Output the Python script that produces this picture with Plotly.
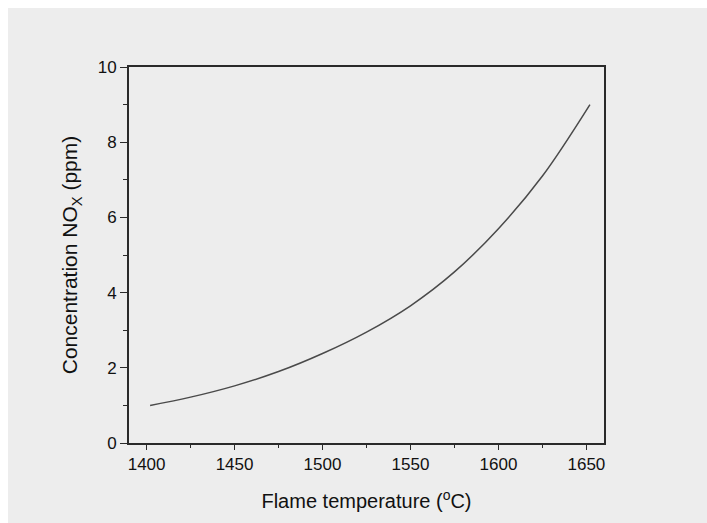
import plotly.graph_objects as go

# Data
temperature_c = [1402, 1425, 1450, 1475, 1500, 1525, 1550, 1575, 1600, 1625, 1652]
nox_ppm = [1.00, 1.22, 1.52, 1.90, 2.38, 2.95, 3.65, 4.55, 5.70, 7.10, 9.00]

x_title = "Flame temperature (<sup>o</sup>C)"
y_title = "Concentration NO<sub>X</sub> (ppm)"
x_range = [1390, 1660]
y_range = [0, 10]

BG = "#ededed"
AX = "#2a2a2a"
TXT = "#111111"
FONT = "Liberation Sans, Arial, sans-serif"

fig = go.Figure()
fig.add_trace(go.Scatter(
    x=temperature_c, y=nox_ppm, mode="lines",
    line=dict(color="#4a4a4a", width=1.5, shape="spline"),
    showlegend=False, hoverinfo="skip",
))

L, R, T, B = 129, 103, 67, 80
W, H = 707, 523
pw, ph = W - L - R, H - T - B
# gray backdrop from pixel (8,8) to the bottom-right corner
fig.add_shape(type="rect", xref="paper", yref="paper", layer="below",
              x0=(8 - L) / pw, x1=(W + 5 - L) / pw,
              y0=-(B + 5) / ph, y1=1 + (T - 8) / ph,
              fillcolor=BG, line=dict(width=0))

axis_common = dict(
    showgrid=False, zeroline=False, showline=True, linecolor=AX, linewidth=1.7,
    mirror=True, ticks="outside", tickcolor=AX, tickwidth=1.3,
    tickfont=dict(family=FONT, size=17, color=TXT),
)
fig.update_xaxes(range=x_range, dtick=50, tick0=1400, ticklen=5,
                 minor=dict(dtick=25, tick0=1400, ticks="outside", ticklen=3, tickcolor=AX, tickwidth=1.2),
                 title=dict(text=x_title, font=dict(family=FONT, size=20, color=TXT), standoff=21),
                 **axis_common)
fig.update_yaxes(range=y_range, dtick=2, ticklen=7,
                 minor=dict(dtick=1, ticks="outside", ticklen=4, tickcolor=AX, tickwidth=1.2),
                 title=dict(text=y_title, font=dict(family=FONT, size=21, color=TXT), standoff=14),
                 **axis_common)

fig.update_layout(
    width=W, height=H,
    margin=dict(l=L, r=R, t=T, b=B, autoexpand=False),
    paper_bgcolor="white", plot_bgcolor=BG,
)
fig.write_html("out.html")
